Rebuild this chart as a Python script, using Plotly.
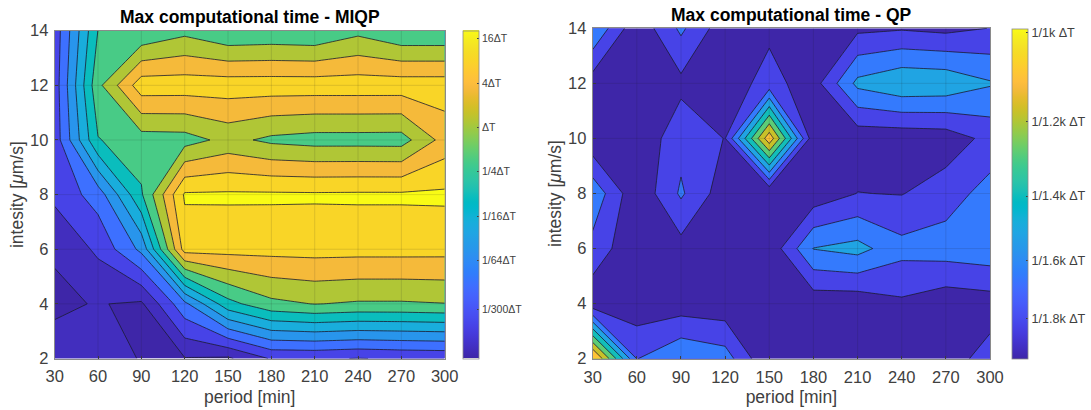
import math
import plotly.graph_objects as go

W, H = 1091, 410

# ---- data: grid of the two contour maps, in units of contour level index ----
periods = [30, 60, 90, 120, 150, 180, 210, 240, 270, 300]
intensities = [2, 4, 6, 8, 10, 12, 14]

miqp_y2 = [1.37, 1.25, 0.97, 0.95, 0.85, 2.10, 2.12, 1.97, 2.10, 2.16]
miqp_y4 = [0.85, 1.05, 0.85, 3.75, 6.65, 7.74, 8.03, 7.88, 7.88, 7.97]
miqp_y6 = [1.08, 2.20, 4.25, 10.42, 10.36, 10.34, 10.37, 10.35, 10.35, 10.33]
miqp_y8 = [2.25, 3.46, 6.88, 11.13, 11.15, 11.15, 11.13, 11.15, 11.15, 11.18]
miqp_y10 = [2.42, 6.95, 7.52, 7.58, 8.30, 7.78, 7.60, 7.60, 7.58, 9.39]
miqp_y12 = [2.47, 7.73, 10.58, 10.55, 10.55, 10.55, 10.55, 10.55, 10.55, 10.55]
miqp_y14 = [2.40, 7.02, 7.05, 7.71, 7.05, 7.15, 7.05, 7.72, 7.05, 7.05]

qp_y2 = [8.40, 1.97, 2.94, 2.49, 0.02, 0.15, 0.15, 0.20, 0.53, 1.41]
qp_y4 = [0.30, 0.34, 0.44, 0.32, 0.30, 0.34, 0.32, 0.82, 0.34, 0.51]
qp_y6 = [1.65, 0.15, 0.62, 0.20, 0.27, 3.03, 3.35, 2.33, 2.50, 2.68]
qp_y8 = [2.73, 0.19, 2.15, 0.40, 0.05, 0.32, 1.02, 0.96, 1.50, 2.42]
qp_y10 = [0.20, 0.20, 1.65, 0.97, 7.70, 0.30, 0.34, 0.33, 0.44, 1.30]
qp_y12 = [0.49, 0.20, 0.74, 0.55, 1.30, 0.55, 3.27, 3.85, 3.76, 3.10]
qp_y14 = [2.95, 0.25, 2.20, 0.35, 0.83, 0.30, 0.77, 0.90, 0.73, 1.02]

# position of each filled band on the colour bar (0 = bottom, 1 = top)
miqp_band_pos = [0.0, 0.03, 0.10, 0.225, 0.33, 0.41, 0.49, 0.60, 0.72, 0.82, 0.91, 1.0]
qp_band_pos = [0.0, 0.10, 0.25, 0.38, 0.50, 0.625, 0.75, 0.86]

# colour-bar ticks
miqp_cb_vals = [16, 4, 1, 1 / 4, 1 / 16, 1 / 64, 1 / 300]
miqp_cb_text = ["16ΔT", "4ΔT", "ΔT", "1/4ΔT", "1/16ΔT", "1/64ΔT", "1/300ΔT"]
miqp_cb_range = [2 ** -10.43, 2 ** 4.37]
qp_cb_vals = [1 / 1000, 1 / 1200, 1 / 1400, 1 / 1600, 1 / 1800]
qp_cb_text = ["1/1k ΔT", "1/1.2k ΔT", "1/1.4k ΔT", "1/1.6k ΔT", "1/1.8k ΔT"]
qp_cb_range = [1 / 1957, 1 / 992]

x_ticks = periods
y_ticks = intensities

PARULA = [
    (0.2422, 0.1504, 0.6603), (0.2504, 0.1650, 0.7076), (0.2578, 0.1818, 0.7511), (0.2647, 0.1978, 0.7952),
    (0.2706, 0.2147, 0.8364), (0.2751, 0.2342, 0.8710), (0.2783, 0.2559, 0.8991), (0.2803, 0.2782, 0.9221),
    (0.2813, 0.3006, 0.9414), (0.2810, 0.3228, 0.9579), (0.2795, 0.3447, 0.9717), (0.2760, 0.3667, 0.9829),
    (0.2699, 0.3892, 0.9906), (0.2602, 0.4123, 0.9952), (0.2440, 0.4358, 0.9988), (0.2206, 0.4603, 0.9973),
    (0.1963, 0.4847, 0.9892), (0.1834, 0.5074, 0.9798), (0.1786, 0.5289, 0.9682), (0.1764, 0.5499, 0.9520),
    (0.1687, 0.5703, 0.9359), (0.1540, 0.5902, 0.9218), (0.1460, 0.6091, 0.9079), (0.1380, 0.6276, 0.8973),
    (0.1248, 0.6459, 0.8883), (0.1113, 0.6635, 0.8763), (0.0952, 0.6798, 0.8598), (0.0689, 0.6948, 0.8394),
    (0.0297, 0.7082, 0.8163), (0.0036, 0.7203, 0.7917), (0.0067, 0.7312, 0.7660), (0.0433, 0.7411, 0.7394),
    (0.0964, 0.7500, 0.7120), (0.1408, 0.7584, 0.6842), (0.1717, 0.7670, 0.6554), (0.1938, 0.7758, 0.6251),
    (0.2161, 0.7843, 0.5923), (0.2470, 0.7918, 0.5567), (0.2906, 0.7973, 0.5188), (0.3406, 0.8008, 0.4789),
    (0.3909, 0.8029, 0.4354), (0.4456, 0.8024, 0.3909), (0.5044, 0.7993, 0.3480), (0.5616, 0.7942, 0.3045),
    (0.6174, 0.7876, 0.2612), (0.6720, 0.7793, 0.2227), (0.7242, 0.7698, 0.1910), (0.7738, 0.7598, 0.1646),
    (0.8203, 0.7498, 0.1535), (0.8634, 0.7406, 0.1596), (0.9035, 0.7330, 0.1774), (0.9393, 0.7288, 0.2100),
    (0.9728, 0.7298, 0.2394), (0.9956, 0.7434, 0.2371), (0.9970, 0.7659, 0.2199), (0.9952, 0.7861, 0.1967),
    (0.9892, 0.8066, 0.1795), (0.9786, 0.8296, 0.1580), (0.9676, 0.8507, 0.1484), (0.9619, 0.8715, 0.1450),
    (0.9595, 0.8955, 0.1405), (0.9622, 0.9205, 0.1250), (0.9684, 0.9500, 0.1050), (0.9769, 0.9839, 0.0805),
]


def rgb(c):
    return "rgb(%d,%d,%d)" % tuple(round(v * 255) for v in c)


def parula(f):
    t = max(0.0, min(1.0, f)) * (len(PARULA) - 1)
    i = min(int(t), len(PARULA) - 2)
    u = t - i
    return rgb(tuple(PARULA[i][k] * (1 - u) + PARULA[i + 1][k] * u for k in range(3)))


full_scale = [[i / (len(PARULA) - 1), rgb(c)] for i, c in enumerate(PARULA)]


def band_scale(pos):
    n = len(pos) - 1
    return [[i / n, parula(p)] for i, p in enumerate(pos)]


TEXT = "#404040"
FRAME = "#8a8a8a"
FONT = "Liberation Sans, Arial, sans-serif"

# pixel boxes of axes and colour bars
L_AX = (54.7, 444.7, 30.7, 358.5)
R_AX = (592.7, 990.0, 28.3, 358.7)
L_CB = (462.7, 478.3)
R_CB = (1012.0, 1027.7)


def fx(p):
    return p / W


def fy(p):
    return 1 - p / H


fig = go.Figure()


def add_panel(z, pos, ax_suffix, vals, text, rng, cb, box, tick_size):
    xa = "x" + ax_suffix
    ya = "y" + ax_suffix
    nlines = len(pos) - 1
    fig.add_trace(go.Contour(
        x=periods, y=intensities, z=z, xaxis=xa, yaxis=ya,
        autocontour=False,
        contours=dict(start=1, end=nlines, size=1, coloring="fill", showlines=True),
        line=dict(color="#1c1c30", width=0.8, smoothing=0),
        colorscale=band_scale(pos), showscale=False, hoverinfo="skip",
    ))
    fig.add_trace(go.Scatter(
        x=[None], y=[None], xaxis=xa, yaxis=ya, mode="markers", showlegend=False, hoverinfo="skip",
        marker=dict(
            color=[math.log(rng[0]), math.log(rng[1])], cmin=math.log(rng[0]), cmax=math.log(rng[1]),
            colorscale=full_scale, showscale=True,
            colorbar=dict(
                x=fx(cb[0]), xanchor="left", xpad=0,
                y=fy(box[3]), yanchor="bottom", ypad=0,
                lenmode="pixels", len=box[3] - box[2],
                thicknessmode="pixels", thickness=cb[1] - cb[0],
                tickmode="array", tickvals=[math.log(v) for v in vals], ticktext=text,
                ticks="inside", ticklen=2, tickcolor="#404040", tickwidth=0.8,
                tickfont=dict(family=FONT, size=tick_size, color=TEXT),
                outlinecolor=FRAME, outlinewidth=0.8,
            ),
        ),
    ))


add_panel([miqp_y2, miqp_y4, miqp_y6, miqp_y8, miqp_y10, miqp_y12, miqp_y14], miqp_band_pos, "",
          miqp_cb_vals, miqp_cb_text, miqp_cb_range, L_CB, L_AX, 10.5)
add_panel([qp_y2, qp_y4, qp_y6, qp_y8, qp_y10, qp_y12, qp_y14], qp_band_pos, "2",
          qp_cb_vals, qp_cb_text, qp_cb_range, R_CB, R_AX, 12.6)


def x_axis(box, anchor):
    return dict(
        domain=[fx(box[0]), fx(box[1])], anchor=anchor, range=[30, 300], automargin=False,
        tickmode="array", tickvals=x_ticks, ticks="inside", ticklen=3, tickcolor="#404040",
        ticklabelstandoff=3,
        tickfont=dict(family=FONT, size=16.5, color=TEXT),
        showgrid=False, zeroline=False, showline=True, mirror=True, linecolor=FRAME, linewidth=1,
        title=dict(text="period [min]", font=dict(family=FONT, size=17.5, color=TEXT), standoff=6),
    )


def y_axis(box, anchor):
    return dict(
        domain=[fy(box[3]), fy(box[2])], anchor=anchor, range=[2, 14], automargin=False,
        tickmode="array", tickvals=y_ticks, ticks="inside", ticklen=3, tickcolor="#404040",
        ticklabelstandoff=2,
        tickfont=dict(family=FONT, size=16.5, color=TEXT),
        showgrid=False, zeroline=False, showline=True, mirror=True, linecolor=FRAME, linewidth=1,
        title=dict(text="intesity [<i>μ</i>m/s]", font=dict(family=FONT, size=17.5, color=TEXT), standoff=1),
    )


# faint grid drawn over the filled contours
shapes = []
for xa, ya in (("x", "y"), ("x2", "y2")):
    for t in x_ticks[1:-1]:
        shapes.append(dict(type="line", xref=xa, yref=ya, x0=t, x1=t, y0=2, y1=14, layer="above",
                           line=dict(color="rgba(30,30,30,0.13)", width=1)))
    for t in y_ticks[1:-1]:
        shapes.append(dict(type="line", xref=xa, yref=ya, x0=30, x1=300, y0=t, y1=t, layer="above",
                           line=dict(color="rgba(30,30,30,0.13)", width=1)))

annotations = [
    dict(text="<b>Max computational time - MIQP</b>", xref="paper", yref="paper",
         x=fx((L_AX[0] + L_AX[1]) / 2), y=fy(17), xanchor="center", yanchor="middle", showarrow=False,
         font=dict(family=FONT, size=17.5, color="#000000")),
    dict(text="<b>Max computational time - QP</b>", xref="paper", yref="paper",
         x=fx((R_AX[0] + R_AX[1]) / 2), y=fy(15), xanchor="center", yanchor="middle", showarrow=False,
         font=dict(family=FONT, size=17.5, color="#000000")),
]

fig.update_layout(
    width=W, height=H, autosize=False, margin=dict(l=0, r=0, t=0, b=0),
    paper_bgcolor="white", plot_bgcolor="white", showlegend=False,
    xaxis=x_axis(L_AX, "y"), yaxis=y_axis(L_AX, "x"),
    xaxis2=x_axis(R_AX, "y2"), yaxis2=y_axis(R_AX, "x2"),
    shapes=shapes, annotations=annotations,
)

fig.write_html("out.html", config={"displayModeBar": False},
               post_script="document.body.style.margin='0';document.documentElement.style.overflow='hidden';")
